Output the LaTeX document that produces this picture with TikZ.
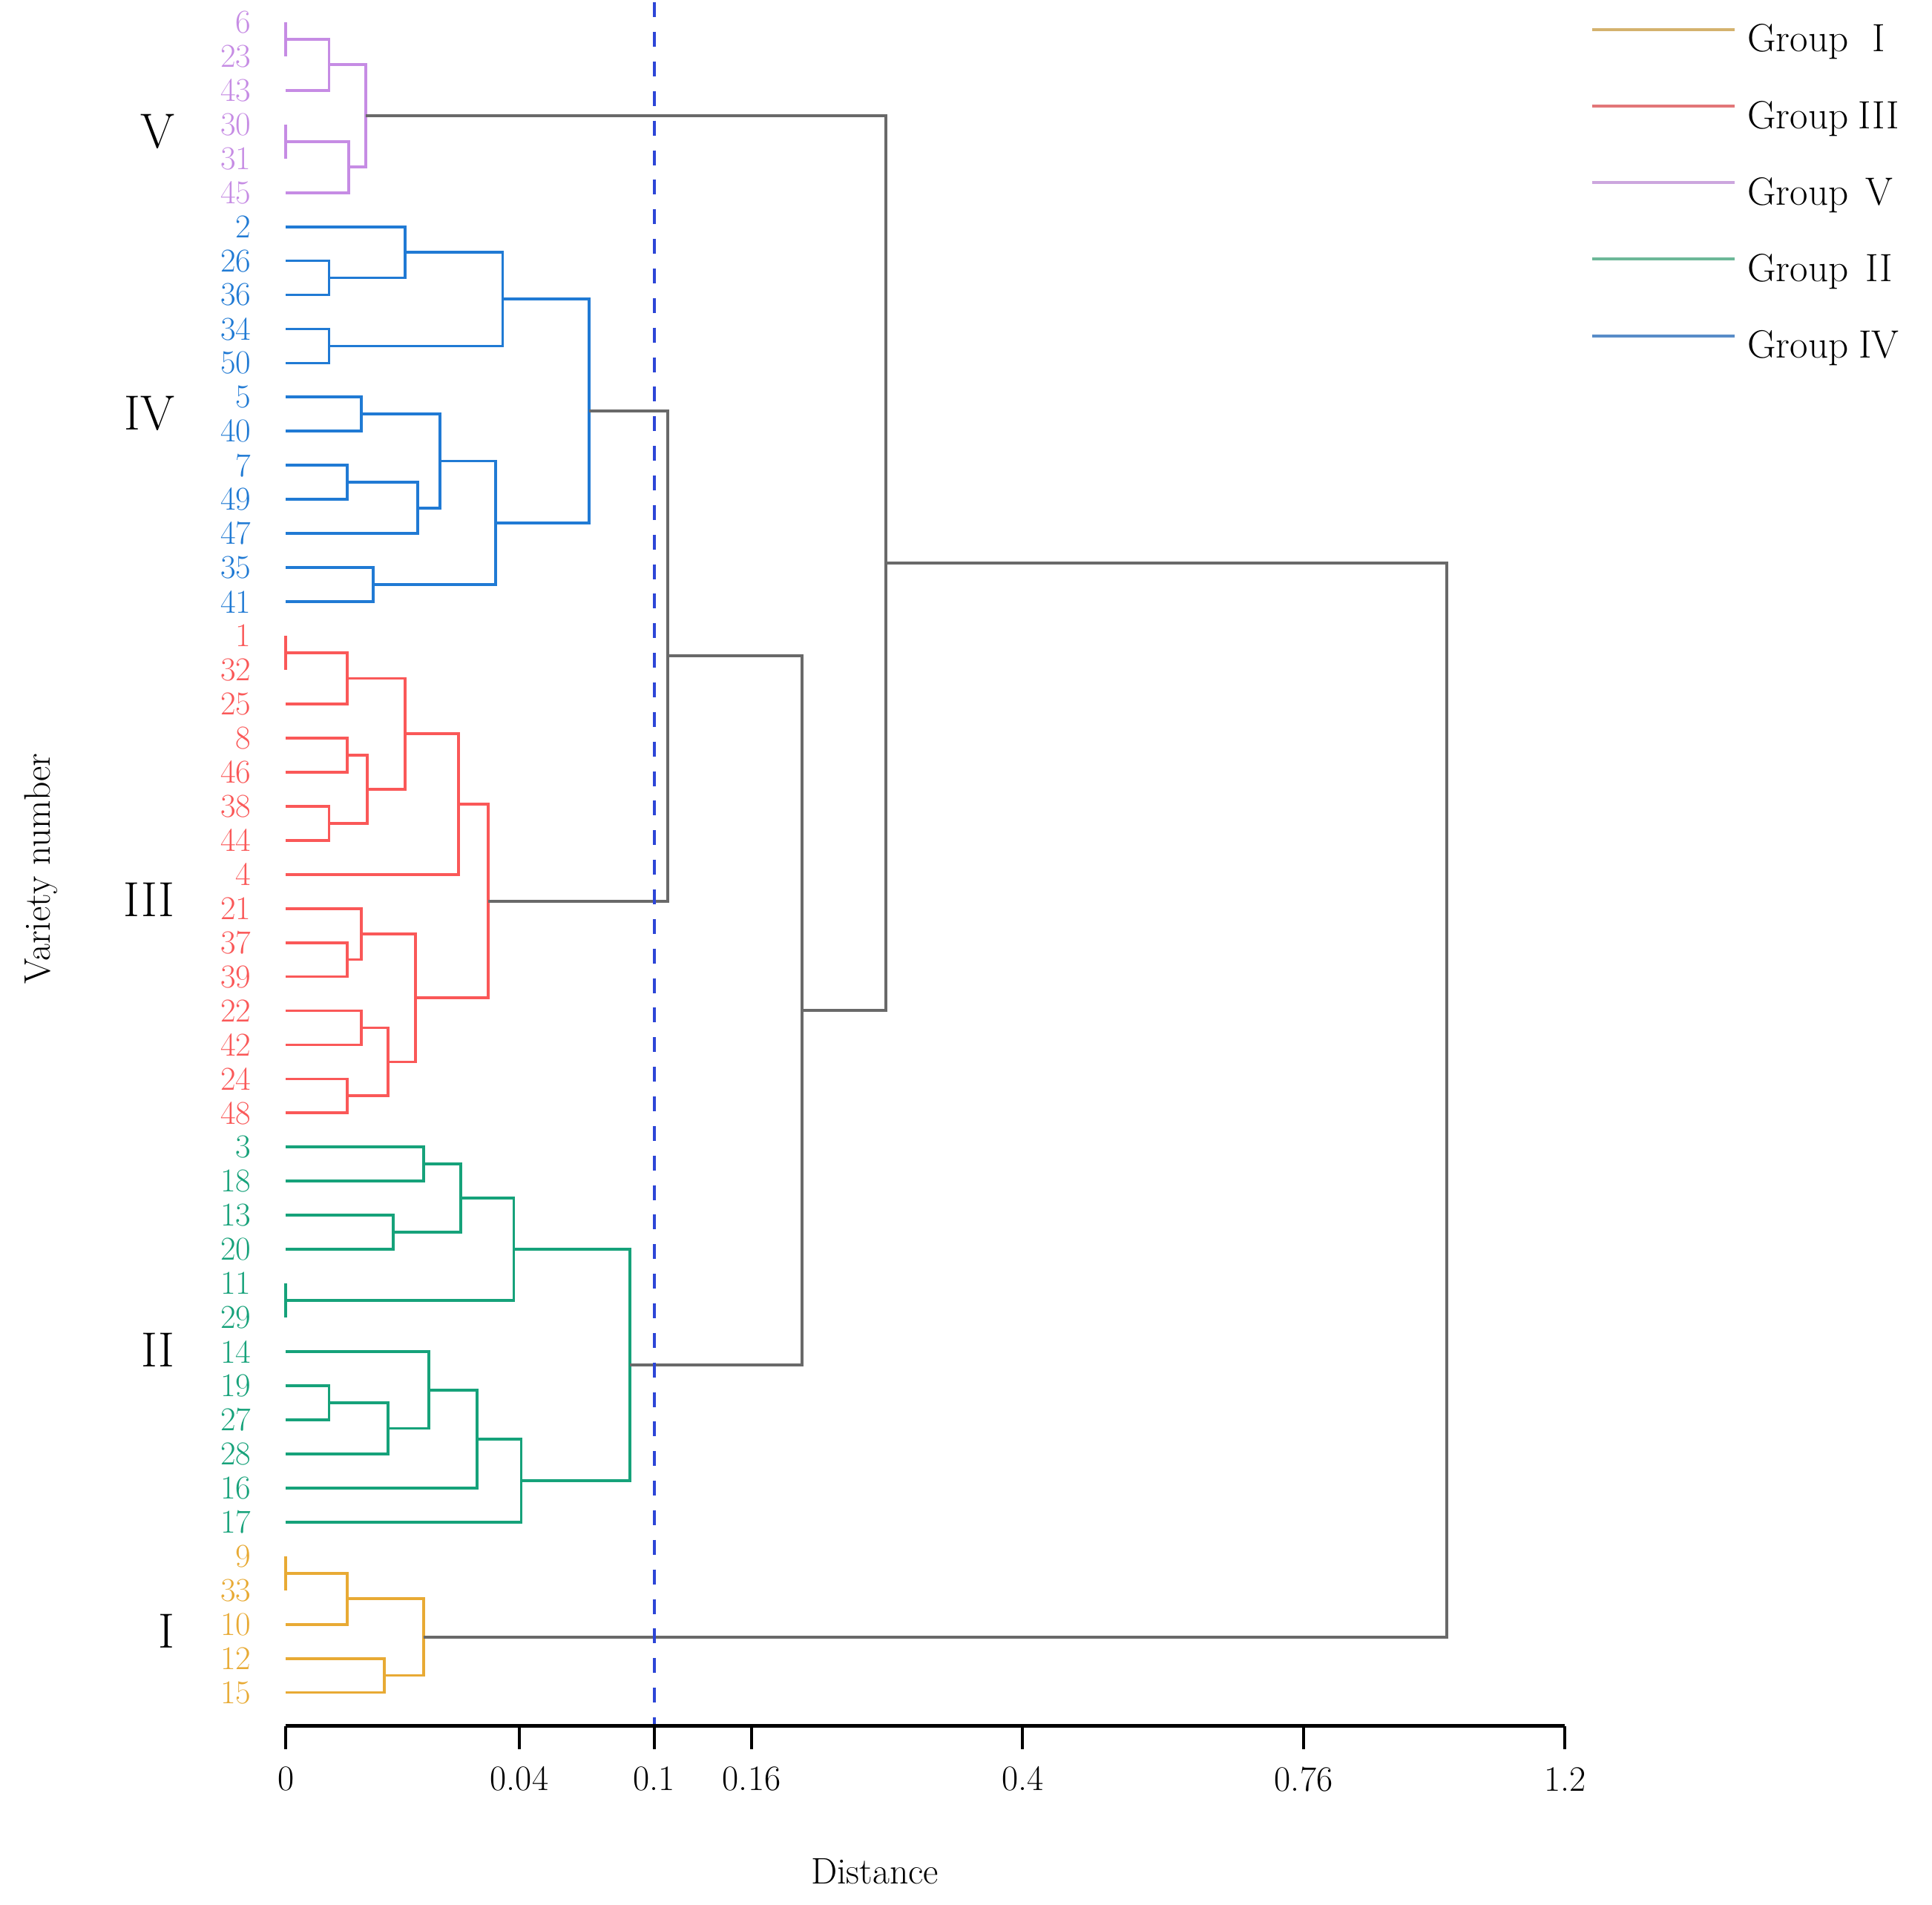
\documentclass[tikz,border=0pt]{standalone}
\usepackage{fontspec}
\usetikzlibrary{calc}
\definecolor{cV}{RGB}{198,140,228}
\definecolor{cIV}{RGB}{32,122,212}
\definecolor{cIII}{RGB}{250,88,88}
\definecolor{cII}{RGB}{22,162,122}
\definecolor{cI}{RGB}{232,170,52}
\definecolor{cG}{RGB}{105,105,105}
\definecolor{cCut}{RGB}{45,70,215}
\definecolor{kI}{RGB}{212,178,110}
\definecolor{kIII}{RGB}{226,118,120}
\definecolor{kV}{RGB}{204,166,222}
\definecolor{kII}{RGB}{108,184,152}
\definecolor{kIV}{RGB}{88,140,200}

\newcommand\leafpt[3]{%
  \pgfmathsetmacro\yy{18+#2*27.67}%
  \coordinate (l#1) at (232,\yy);
  \node[leaflab,text=#3] (t#1) at (204,\yy) {#1};
}
\newcommand\mergeat[5]{%
  \coordinate (tmpm) at ($(#3)!0.5!(#4)$);
  \coordinate (#1) at (#2,0 |- tmpm);
  \draw[#5] (#3) -| (#1) |- (#4);
}

\begin{document}
\begin{tikzpicture}[x=1pt,y=-1pt,
  br/.style={line width=2.3pt,line join=miter},
  brV/.style={br,draw=cV},
  brIV/.style={br,draw=cIV},
  brIII/.style={br,draw=cIII},
  brII/.style={br,draw=cII},
  brI/.style={br,draw=cI},
  brG/.style={br,draw=cG},
  leaflab/.style={anchor=east,inner sep=0pt,font=\fontsize{27}{27}\selectfont},
  grplab/.style={anchor=east,inner sep=0pt,font=\fontsize{40}{40}\selectfont},
  ticklab/.style={inner sep=0pt,font=\fontsize{29}{29}\selectfont},
  titlelab/.style={inner sep=0pt,font=\fontsize{30}{30}\selectfont},
  legline/.style={line width=2.6pt},
  leglab/.style={anchor=base west,inner sep=0pt,font=\fontsize{32}{32}\selectfont},
  axisline/.style={line width=3.3pt,draw=black},
  tickline/.style={line width=2.4pt,draw=black},
  cutline/.style={draw=cCut,line width=2.2pt,dash pattern=on 12pt off 12pt,dash phase=22pt}
]
\fill[white] (0,0) rectangle (1568,1546);
\useasboundingbox (0,0) rectangle (1568,1546);

% leaves
\foreach \n [count=\i from 0] in {6,23,43,30,31,45} {\leafpt{\n}{\i}{cV}}
\foreach \n [count=\i from 6] in {2,26,36,34,50,5,40,7,49,47,35,41} {\leafpt{\n}{\i}{cIV}}
\foreach \n [count=\i from 18] in {1,32,25,8,46,38,44,4,21,37,39,22,42,24,48} {\leafpt{\n}{\i}{cIII}}
\foreach \n [count=\i from 33] in {3,18,13,20,11,29,14,19,27,28,16,17} {\leafpt{\n}{\i}{cII}}
\foreach \n [count=\i from 45] in {9,33,10,12,15} {\leafpt{\n}{\i}{cI}}

% Group V
\mergeat{v1}{232}{l6}{l23}{brV}
\mergeat{v2}{267}{v1}{l43}{brV}
\mergeat{v3}{232}{l30}{l31}{brV}
\mergeat{v4}{283}{v3}{l45}{brV}
\mergeat{gV}{297}{v2}{v4}{brV}
% Group IV
\mergeat{b1}{267}{l26}{l36}{brIV}
\mergeat{b2}{329}{l2}{b1}{brIV}
\mergeat{b3}{267}{l34}{l50}{brIV}
\mergeat{b4}{408}{b2}{b3}{brIV}
\mergeat{b5}{293}{l5}{l40}{brIV}
\mergeat{b6}{282}{l7}{l49}{brIV}
\mergeat{b7}{339}{b6}{l47}{brIV}
\mergeat{b8}{357}{b5}{b7}{brIV}
\mergeat{b9}{303}{l35}{l41}{brIV}
\mergeat{b10}{402}{b8}{b9}{brIV}
\mergeat{gIV}{478}{b4}{b10}{brIV}
% Group III
\mergeat{r1}{232}{l1}{l32}{brIII}
\mergeat{r2}{282}{r1}{l25}{brIII}
\mergeat{r3}{282}{l8}{l46}{brIII}
\mergeat{r4}{267}{l38}{l44}{brIII}
\mergeat{r5}{298}{r3}{r4}{brIII}
\mergeat{r6}{329}{r2}{r5}{brIII}
\mergeat{r7}{372}{r6}{l4}{brIII}
\mergeat{r8}{282}{l37}{l39}{brIII}
\mergeat{r9}{293}{l21}{r8}{brIII}
\mergeat{r10}{293}{l22}{l42}{brIII}
\mergeat{r11}{282}{l24}{l48}{brIII}
\mergeat{r12}{315}{r10}{r11}{brIII}
\mergeat{r13}{337}{r9}{r12}{brIII}
\mergeat{gIII}{396}{r7}{r13}{brIII}
% Group II
\mergeat{e1}{344}{l3}{l18}{brII}
\mergeat{e2}{319}{l13}{l20}{brII}
\mergeat{e3}{374}{e1}{e2}{brII}
\mergeat{e4}{232}{l11}{l29}{brII}
\mergeat{e5}{417}{e3}{e4}{brII}
\mergeat{e6}{267}{l19}{l27}{brII}
\mergeat{e7}{315}{e6}{l28}{brII}
\mergeat{e8}{348}{l14}{e7}{brII}
\mergeat{e9}{387}{e8}{l16}{brII}
\mergeat{e10}{423}{e9}{l17}{brII}
\mergeat{gII}{511}{e5}{e10}{brII}
% Group I
\mergeat{o1}{232}{l9}{l33}{brI}
\mergeat{o2}{282}{o1}{l10}{brI}
\mergeat{o3}{312}{l12}{l15}{brI}
\mergeat{gI}{344}{o2}{o3}{brI}
% upper (grey) merges
\mergeat{g1}{542}{gIV}{gIII}{brG}
\mergeat{g2}{651}{g1}{gII}{brG}
\mergeat{g3}{719}{gV}{g2}{brG}
\mergeat{root}{1174}{g3}{gI}{brG}

% cut line
\coordinate (cuttop) at (531,0);
\coordinate (cutbot) at (531,1400);
\draw[cutline] (cuttop) -- (cutbot);

% group labels
\node[grplab] (nV) at (142,106.6) {V};
\node[grplab] (nIV) at (142,335.5) {IV};
\node[grplab] (nIII) at (142,730.5) {III};
\node[grplab] (nII) at (142,1095.5) {II};
\node[grplab] (nI) at (142,1324) {I};

% axis
\foreach \xx/\lab/\nm in {232/0/a,421.5/0.04/b,531/0.1/c,610/0.16/d,830/0.4/e,1058/0.76/f,1270/1.2/g} {
  \coordinate (tk\nm) at (\xx,1401);
  \coordinate (te\nm) at (\xx,1420);
  \draw[tickline] (tk\nm) -- (te\nm);
  \node[ticklab] (tl\nm) at (\xx,1444) {\lab};
}
\draw[axisline] (tka) -- (tkg);

\node[titlelab] (xlab) at (710,1519) {Distance};
\node[titlelab,rotate=90] (ylab) at (33,705) {Variety number};

% legend
\foreach \yy/\cc/\num/\nm in {24/kI/I/a,86.3/kIII/III/b,148.2/kV/V/c,210.3/kII/II/d,272.6/kIV/IV/e} {
  \coordinate (ka\nm) at (1292,\yy);
  \coordinate (kb\nm) at (1408,\yy);
  \draw[legline,draw=\cc] (ka\nm) -- (kb\nm);
  \node[leglab] (kt\nm) at (1418,\yy+18) {Group\hspace{0.2em}\makebox[1.15em][c]{\num}};
}
\end{tikzpicture}
\end{document}
